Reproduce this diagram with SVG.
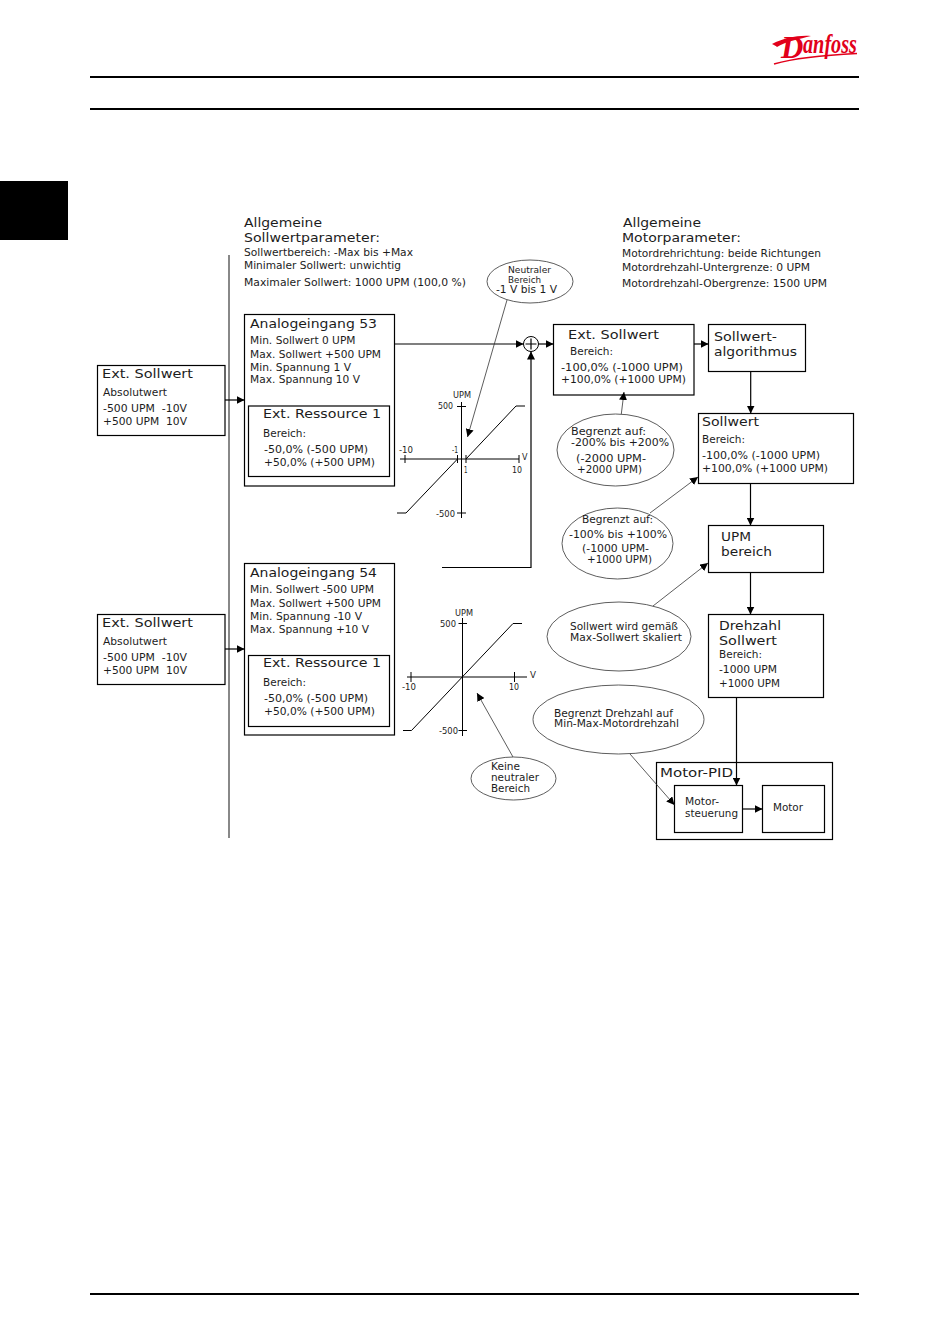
<svg xmlns="http://www.w3.org/2000/svg" width="950" height="1344" viewBox="0 0 950 1344">
<style>
text{font-family:"DejaVu Sans","Liberation Sans",sans-serif;fill:#1c1c1c;white-space:pre}
.t{font-size:13px}.b{font-size:9.6px}.m{font-size:10px}.s{font-size:8px}
.box{fill:#fff;stroke:#000;stroke-width:1.2}
.el{fill:#fff;stroke:#333;stroke-width:.8}
.rule{stroke:#000;stroke-width:2;fill:none}
.c{stroke:#000;stroke-width:1.2;fill:none}
.a{marker-end:url(#ah)}
.th{stroke:#333;stroke-width:.8;fill:none}
.ax{stroke:#000;stroke-width:1;fill:none}
.logo{font-family:"Liberation Serif",serif;font-style:italic;font-weight:bold;fill:#e2001a}
</style>
<defs>
<marker id="ah" markerUnits="userSpaceOnUse" markerWidth="8" markerHeight="8" refX="8" refY="4" orient="auto"><path d="M0 0L8 4L0 8z" fill="#000"/></marker>
</defs>
<rect width="950" height="1344" fill="#fff"/>
<g id="page">
<rect x="0" y="181" width="68" height="59" fill="#000"/>
<path class="rule" d="M90 77H859M90 109H859M90 1294H859"/>
<path d="M229 255V838" stroke="#888" stroke-width="2" fill="none"/>
</g>
<g id="logo">
<path d="M772 44C784 38 798 35 811 36C800 39 786 41 777 47C776 46 774 45 772 44z" fill="#e2001a"/>
<path d="M774 64C795 58 825 55 857 53.500" stroke="#e2001a" stroke-width="1.600" fill="none"/>
<text class="logo" x="781" y="58" font-size="31">D</text>
<text class="logo" x="803" y="53" font-size="28" textLength="54" lengthAdjust="spacingAndGlyphs">anfoss</text>
</g>
<g id="params-sollwert">
<text class="t" x="244" y="227" textLength="78" lengthAdjust="spacingAndGlyphs">Allgemeine</text>
<text class="t" x="244" y="242" textLength="136" lengthAdjust="spacingAndGlyphs">Sollwertparameter:</text>
<text class="b" x="244" y="256" textLength="169" lengthAdjust="spacingAndGlyphs">Sollwertbereich: -Max bis +Max</text>
<text class="b" x="244" y="269" textLength="157" lengthAdjust="spacingAndGlyphs">Minimaler Sollwert: unwichtig</text>
<text class="b" x="244" y="286" textLength="222" lengthAdjust="spacingAndGlyphs">Maximaler Sollwert: 1000 UPM (100,0 %)</text>
</g>
<g id="params-motor">
<text class="t" x="623" y="227" textLength="78" lengthAdjust="spacingAndGlyphs">Allgemeine</text>
<text class="t" x="622" y="242" textLength="119" lengthAdjust="spacingAndGlyphs">Motorparameter:</text>
<text class="b" x="622" y="257" textLength="199" lengthAdjust="spacingAndGlyphs">Motordrehrichtung: beide Richtungen</text>
<text class="b" x="622" y="271" textLength="188" lengthAdjust="spacingAndGlyphs">Motordrehzahl-Untergrenze: 0 UPM</text>
<text class="b" x="622" y="287" textLength="205" lengthAdjust="spacingAndGlyphs">Motordrehzahl-Obergrenze: 1500 UPM</text>
</g>
<g id="ext-sollwert-1">
<rect class="box" x="97.5" y="365.5" width="127.5" height="70"/>
<text class="t" x="102" y="378" textLength="91" lengthAdjust="spacingAndGlyphs">Ext. Sollwert</text>
<text class="b" x="103" y="396" textLength="64" lengthAdjust="spacingAndGlyphs">Absolutwert</text>
<text class="b" x="103" y="412" textLength="84" lengthAdjust="spacingAndGlyphs">-500 UPM  -10V</text>
<text class="b" x="103" y="425" textLength="84" lengthAdjust="spacingAndGlyphs">+500 UPM  10V</text>
</g>
<g id="ext-sollwert-2">
<rect class="box" x="97.5" y="614.5" width="127.5" height="70"/>
<text class="t" x="102" y="627" textLength="91" lengthAdjust="spacingAndGlyphs">Ext. Sollwert</text>
<text class="b" x="103" y="645" textLength="64" lengthAdjust="spacingAndGlyphs">Absolutwert</text>
<text class="b" x="103" y="661" textLength="84" lengthAdjust="spacingAndGlyphs">-500 UPM  -10V</text>
<text class="b" x="103" y="674" textLength="84" lengthAdjust="spacingAndGlyphs">+500 UPM  10V</text>
</g>
<g id="analog-53">
<rect class="box" x="244.5" y="314.5" width="150" height="171.5"/>
<text class="t" x="250" y="328" textLength="127" lengthAdjust="spacingAndGlyphs">Analogeingang 53</text>
<text class="b" x="250" y="344" textLength="105.500" lengthAdjust="spacingAndGlyphs">Min. Sollwert 0 UPM</text>
<text class="b" x="250" y="358" textLength="131" lengthAdjust="spacingAndGlyphs">Max. Sollwert +500 UPM</text>
<text class="b" x="250" y="371" textLength="101" lengthAdjust="spacingAndGlyphs">Min. Spannung 1 V</text>
<text class="b" x="250" y="383" textLength="110" lengthAdjust="spacingAndGlyphs">Max. Spannung 10 V</text>
</g>
<g id="ressource-53">
<rect class="box" x="248.500" y="406" width="141" height="70.500"/>
<text class="t" x="263" y="418" textLength="118" lengthAdjust="spacingAndGlyphs">Ext. Ressource 1</text>
<text class="b" x="263" y="437" textLength="43" lengthAdjust="spacingAndGlyphs">Bereich:</text>
<text class="b" x="264" y="453" textLength="104" lengthAdjust="spacingAndGlyphs">-50,0% (-500 UPM)</text>
<text class="b" x="264" y="466" textLength="111" lengthAdjust="spacingAndGlyphs">+50,0% (+500 UPM)</text>
</g>
<g id="analog-54">
<rect class="box" x="244.5" y="563.5" width="150" height="171.5"/>
<text class="t" x="250" y="577" textLength="127" lengthAdjust="spacingAndGlyphs">Analogeingang 54</text>
<text class="b" x="250" y="593" textLength="124" lengthAdjust="spacingAndGlyphs">Min. Sollwert -500 UPM</text>
<text class="b" x="250" y="607" textLength="131" lengthAdjust="spacingAndGlyphs">Max. Sollwert +500 UPM</text>
<text class="b" x="250" y="620" textLength="112" lengthAdjust="spacingAndGlyphs">Min. Spannung -10 V</text>
<text class="b" x="250" y="633" textLength="119" lengthAdjust="spacingAndGlyphs">Max. Spannung +10 V</text>
</g>
<g id="ressource-54">
<rect class="box" x="248.500" y="655.5" width="141" height="71"/>
<text class="t" x="263" y="667" textLength="118" lengthAdjust="spacingAndGlyphs">Ext. Ressource 1</text>
<text class="b" x="263" y="686" textLength="43" lengthAdjust="spacingAndGlyphs">Bereich:</text>
<text class="b" x="264" y="702" textLength="104" lengthAdjust="spacingAndGlyphs">-50,0% (-500 UPM)</text>
<text class="b" x="264" y="715" textLength="111" lengthAdjust="spacingAndGlyphs">+50,0% (+500 UPM)</text>
</g>
<g id="chart-1">
<path class="ax" d="M461.5 402V518M400 459H519M405 455V463M457.500 455V463M466 455V463M519 455V463M457 406.500H466M457 513H466"/>
<path class="ax" d="M397 513H406L457.500 459M466 459L516 406H525"/>
<text class="s" x="453" y="398" textLength="18" lengthAdjust="spacingAndGlyphs">UPM</text>
<text class="s" x="438" y="409" textLength="15" lengthAdjust="spacingAndGlyphs">500</text>
<text class="s" x="436" y="517" textLength="19" lengthAdjust="spacingAndGlyphs">-500</text>
<text class="s" x="399" y="453" textLength="14" lengthAdjust="spacingAndGlyphs">-10</text>
<text class="s" x="452" y="453" textLength="6" lengthAdjust="spacingAndGlyphs">-1</text>
<text class="s" x="464" y="473" textLength="3.500" lengthAdjust="spacingAndGlyphs">1</text>
<text class="s" x="512" y="473" textLength="10" lengthAdjust="spacingAndGlyphs">10</text>
<text class="s" x="522" y="460" textLength="5.500" lengthAdjust="spacingAndGlyphs">V</text>
</g>
<g id="chart-2">
<path class="ax" d="M462.500 618V736M407 677H527M411 672V682M514.500 672V682M458.500 623.500H467M458.500 730.500H467"/>
<path class="ax" d="M403 730.500H411.500L513 623.500H522"/>
<text class="s" x="455" y="616" textLength="18" lengthAdjust="spacingAndGlyphs">UPM</text>
<text class="s" x="440" y="627" textLength="16" lengthAdjust="spacingAndGlyphs">500</text>
<text class="s" x="439" y="734" textLength="19" lengthAdjust="spacingAndGlyphs">-500</text>
<text class="s" x="402" y="690" textLength="14" lengthAdjust="spacingAndGlyphs">-10</text>
<text class="s" x="509" y="690" textLength="10" lengthAdjust="spacingAndGlyphs">10</text>
<text class="s" x="530" y="678" textLength="6" lengthAdjust="spacingAndGlyphs">V</text>
</g>
<g id="sum">
<circle cx="531" cy="344" r="7.500" fill="#fff" stroke="#000" stroke-width="1"/>
<path d="M525.500 344H536.500M531 338.500V349.500" stroke="#000" stroke-width="1.200" fill="none"/>
</g>
<g id="ext-sollwert-3">
<rect class="box" x="553.5" y="324.5" width="140.500" height="70.500"/>
<text class="t" x="568" y="339" textLength="91" lengthAdjust="spacingAndGlyphs">Ext. Sollwert</text>
<text class="b" x="570" y="355" textLength="43" lengthAdjust="spacingAndGlyphs">Bereich:</text>
<text class="b" x="561" y="371" textLength="122" lengthAdjust="spacingAndGlyphs">-100,0% (-1000 UPM)</text>
<text class="b" x="561" y="383" textLength="125" lengthAdjust="spacingAndGlyphs">+100,0% (+1000 UPM)</text>
</g>
<g id="algorithmus">
<rect class="box" x="708.5" y="324.5" width="97" height="47"/>
<text class="t" x="714" y="341" textLength="63" lengthAdjust="spacingAndGlyphs">Sollwert-</text>
<text class="t" x="714" y="356" textLength="83" lengthAdjust="spacingAndGlyphs">algorithmus</text>
</g>
<g id="sollwert">
<rect class="box" x="698.5" y="413.5" width="155" height="70"/>
<text class="t" x="702" y="426" textLength="57" lengthAdjust="spacingAndGlyphs">Sollwert</text>
<text class="b" x="702" y="443" textLength="43" lengthAdjust="spacingAndGlyphs">Bereich:</text>
<text class="b" x="702" y="459" textLength="118" lengthAdjust="spacingAndGlyphs">-100,0% (-1000 UPM)</text>
<text class="b" x="702" y="472" textLength="126" lengthAdjust="spacingAndGlyphs">+100,0% (+1000 UPM)</text>
</g>
<g id="upm-bereich">
<rect class="box" x="708.5" y="525.5" width="115" height="47"/>
<text class="t" x="721" y="541" textLength="30" lengthAdjust="spacingAndGlyphs">UPM</text>
<text class="t" x="721" y="556" textLength="51" lengthAdjust="spacingAndGlyphs">bereich</text>
</g>
<g id="drehzahl">
<rect class="box" x="708.5" y="614.5" width="115" height="83"/>
<text class="t" x="719" y="630" textLength="62" lengthAdjust="spacingAndGlyphs">Drehzahl</text>
<text class="t" x="719" y="645" textLength="58" lengthAdjust="spacingAndGlyphs">Sollwert</text>
<text class="b" x="719" y="658" textLength="43" lengthAdjust="spacingAndGlyphs">Bereich:</text>
<text class="b" x="719" y="673" textLength="58" lengthAdjust="spacingAndGlyphs">-1000 UPM</text>
<text class="b" x="719" y="687" textLength="61" lengthAdjust="spacingAndGlyphs">+1000 UPM</text>
</g>
<g id="motor-pid">
<rect class="box" x="656.5" y="762.5" width="176" height="77"/>
<text class="t" x="660" y="777" textLength="73" lengthAdjust="spacingAndGlyphs">Motor-PID</text>
</g>
<g id="motorsteuerung">
<rect class="box" x="674.5" y="785.5" width="68" height="47"/>
<text class="b" x="685" y="805" textLength="34" lengthAdjust="spacingAndGlyphs">Motor-</text>
<text class="b" x="685" y="817" textLength="53" lengthAdjust="spacingAndGlyphs">steuerung</text>
</g>
<g id="motor">
<rect class="box" x="762.5" y="785.5" width="62" height="47"/>
<text class="b" x="773" y="811" textLength="30" lengthAdjust="spacingAndGlyphs">Motor</text>
</g>
<g id="note-neutral">
<ellipse class="el" cx="530" cy="281.5" rx="43" ry="21.5"/>
<text class="s" x="508" y="273" textLength="43" lengthAdjust="spacingAndGlyphs">Neutraler</text>
<text class="s" x="508" y="283" textLength="33" lengthAdjust="spacingAndGlyphs">Bereich</text>
<text class="m" x="496" y="293" textLength="61" lengthAdjust="spacingAndGlyphs">-1 V bis 1 V</text>
</g>
<g id="note-200">
<ellipse class="el" cx="615.5" cy="450" rx="58.5" ry="36"/>
<text class="m" x="571" y="435" textLength="75" lengthAdjust="spacingAndGlyphs">Begrenzt auf:</text>
<text class="m" x="571" y="446" textLength="98" lengthAdjust="spacingAndGlyphs">-200% bis +200%</text>
<text class="m" x="576" y="462" textLength="70" lengthAdjust="spacingAndGlyphs">(-2000 UPM-</text>
<text class="m" x="577" y="473" textLength="65" lengthAdjust="spacingAndGlyphs">+2000 UPM)</text>
</g>
<g id="note-100">
<ellipse class="el" cx="617.5" cy="543.5" rx="55.5" ry="35.5"/>
<text class="m" x="582" y="523" textLength="71" lengthAdjust="spacingAndGlyphs">Begrenzt auf:</text>
<text class="m" x="569" y="538" textLength="98" lengthAdjust="spacingAndGlyphs">-100% bis +100%</text>
<text class="m" x="582" y="552" textLength="67" lengthAdjust="spacingAndGlyphs">(-1000 UPM-</text>
<text class="m" x="587" y="563" textLength="65" lengthAdjust="spacingAndGlyphs">+1000 UPM)</text>
</g>
<g id="note-skaliert">
<ellipse class="el" cx="619" cy="636.5" rx="72" ry="34.5"/>
<text class="b" x="570" y="630" textLength="108" lengthAdjust="spacingAndGlyphs">Sollwert wird gemäß</text>
<text class="b" x="570" y="641" textLength="112" lengthAdjust="spacingAndGlyphs">Max-Sollwert skaliert</text>
</g>
<g id="note-drehzahl">
<ellipse class="el" cx="618.5" cy="719.5" rx="85.5" ry="34.5"/>
<text class="b" x="554" y="717" textLength="119" lengthAdjust="spacingAndGlyphs">Begrenzt Drehzahl auf</text>
<text class="b" x="554" y="727" textLength="125" lengthAdjust="spacingAndGlyphs">Min-Max-Motordrehzahl</text>
</g>
<g id="note-keine">
<ellipse class="el" cx="513.5" cy="778.5" rx="42.5" ry="21.5"/>
<text class="b" x="491" y="770" textLength="29" lengthAdjust="spacingAndGlyphs">Keine</text>
<text class="b" x="491" y="781" textLength="48" lengthAdjust="spacingAndGlyphs">neutraler</text>
<text class="b" x="491" y="792" textLength="39" lengthAdjust="spacingAndGlyphs">Bereich</text>
</g>
<g id="connectors">
<path class="c a" d="M225 400H244.500"/>
<path class="c a" d="M225 649H244.500"/>
<path class="c a" d="M394.500 344H523.500"/>
<path class="c a" d="M442 567.500H531V351.500"/>
<path class="c a" d="M538.500 344H553.500"/>
<path class="c a" d="M694 344H708.500"/>
<path class="c a" d="M750.700 371.500V413.500"/>
<path class="c a" d="M750.500 483.500V525.500"/>
<path class="c a" d="M750.500 572.500V614.500"/>
<path class="c a" d="M736.500 697.500V785.500"/>
<path class="c a" d="M742.500 809H762.500"/>
<path class="th a" d="M507 300L467.500 437"/>
<path class="th a" d="M621.300 414L624 392"/>
<path class="th a" d="M650 513L698 477"/>
<path class="th a" d="M653 606L708 563"/>
<path class="th a" d="M630 754L674.500 805"/>
<path class="th a" d="M513 757L477 693"/>
</g>
</svg>
